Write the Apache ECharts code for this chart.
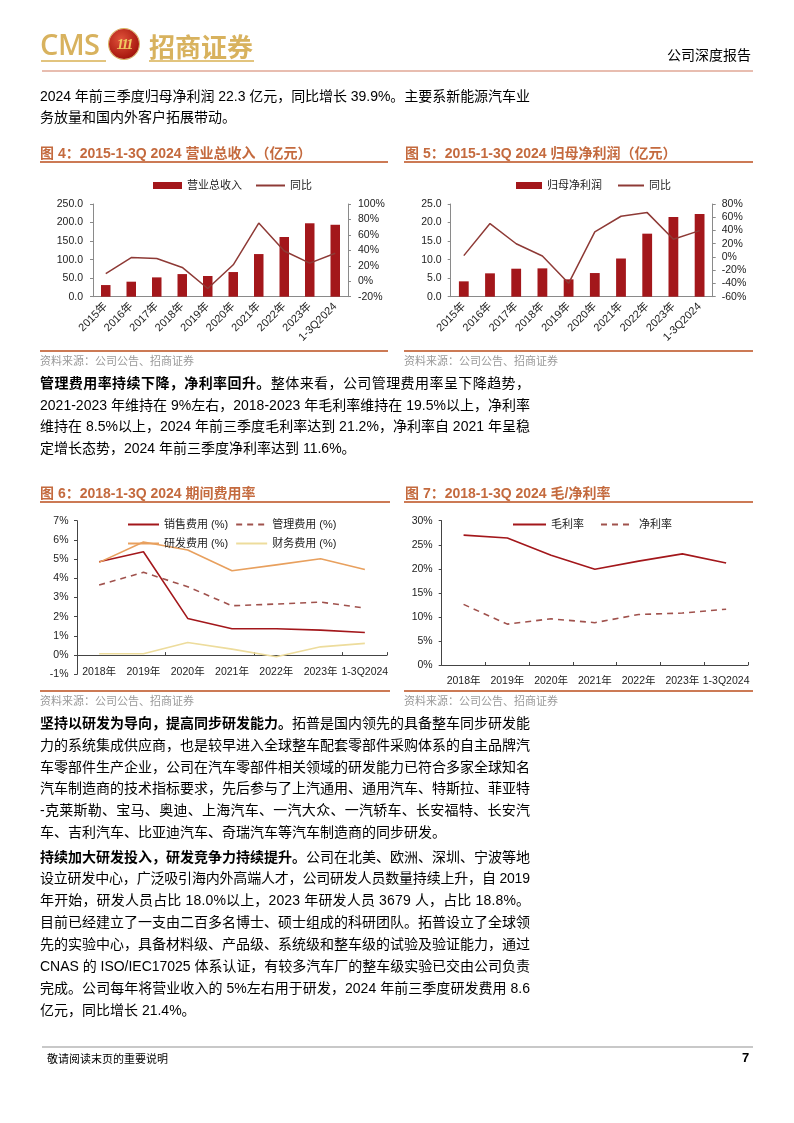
<!DOCTYPE html>
<html><head><meta charset="utf-8">
<script src="https://cdn.jsdelivr.net/npm/echarts@6/dist/echarts.min.js"></script>
<style>
html,body{margin:0;padding:0;background:#fff;}
#page{position:relative;width:794px;height:1123px;overflow:hidden;font-family:"Liberation Sans","Noto Sans CJK SC",sans-serif;color:#000;}
#chart{position:absolute;left:0;top:0;width:794px;height:1123px;}
.abs{position:absolute;white-space:nowrap;}
.para{position:absolute;left:40px;width:490px;font-size:14px;}
.ln{white-space:nowrap;}
b{font-weight:bold;}
.ttl{position:absolute;font-size:14px;font-weight:bold;color:#C46A3E;line-height:18px;white-space:nowrap;}
.rule{position:absolute;height:2px;background:#CC7A55;}
.src{position:absolute;font-size:11px;color:#9a9a9a;line-height:14px;white-space:nowrap;}
</style></head>
<body><div id="page">
<div id="chart"></div>

<!-- header -->
<div class="abs" style="left:40px;top:27px;font-family:'Open Sans';font-weight:600;font-size:29px;color:#D8B25E;line-height:34px;letter-spacing:-0.5px;">CMS</div>
<div class="abs" style="left:41px;top:60px;width:65px;height:2px;background:#E2C47E;"></div>
<div class="abs" style="left:109px;top:29px;width:30px;height:30px;border-radius:50%;background:radial-gradient(circle at 40% 35%,#E0523A,#A8180F 70%,#7A1008);box-shadow:0 0 0 1px #D8B25E;color:#F0C860;font-family:'Liberation Serif';font-style:italic;font-weight:bold;font-size:15px;line-height:30px;text-align:center;letter-spacing:-2px;">111</div>
<div class="abs" style="left:149px;top:30px;font-family:'Noto Sans CJK SC';font-weight:bold;font-size:26px;color:#D8B25E;line-height:32px;">招商证券</div>
<div class="abs" style="left:149px;top:60px;width:105px;height:2px;background:#E2C47E;"></div>
<div class="abs" style="left:42px;top:70px;width:711px;height:2px;background:#E8BDB0;"></div>
<div class="abs" style="left:667px;top:45px;font-size:14px;line-height:18px;font-family:'Noto Sans CJK SC';">公司深度报告</div>

<!-- paragraph 1 -->
<div class="para" style="top:86px;line-height:21px;">
<div class="ln">2024 年前三季度归母净利润 22.3 亿元，同比增长 39.9%。主要系新能源汽车业</div>
<div class="ln last">务放量和国内外客户拓展带动。</div>
</div>

<!-- chart titles -->
<div class="ttl" style="left:40px;top:144px;">图 4：2015-1-3Q 2024 营业总收入（亿元）</div>
<div class="rule" style="left:40px;top:161px;width:348px;"></div>
<div class="rule" style="left:40px;top:350px;width:348px;"></div>
<div class="src" style="left:40px;top:354px;">资料来源：公司公告、招商证券</div>

<div class="ttl" style="left:405px;top:144px;">图 5：2015-1-3Q 2024 归母净利润（亿元）</div>
<div class="rule" style="left:404px;top:161px;width:349px;"></div>
<div class="rule" style="left:404px;top:350px;width:349px;"></div>
<div class="src" style="left:404px;top:354px;">资料来源：公司公告、招商证券</div>

<!-- paragraph 2 -->
<div class="para" style="top:373px;line-height:21.5px;">
<div class="ln"><b>管理费用率持续下降，净利率回升。</b>整体来看，公司管理费用率呈下降趋势，</div>
<div class="ln">2021-2023 年维持在 9%左右，2018-2023 年毛利率维持在 19.5%以上，净利率</div>
<div class="ln">维持在 8.5%以上，2024 年前三季度毛利率达到 21.2%，净利率自 2021 年呈稳</div>
<div class="ln last">定增长态势，2024 年前三季度净利率达到 11.6%。</div>
</div>

<div class="ttl" style="left:40px;top:484px;">图 6：2018-1-3Q 2024 期间费用率</div>
<div class="rule" style="left:40px;top:501px;width:350px;"></div>
<div class="rule" style="left:40px;top:690px;width:350px;"></div>
<div class="src" style="left:40px;top:694px;">资料来源：公司公告、招商证券</div>

<div class="ttl" style="left:405px;top:484px;">图 7：2018-1-3Q 2024 毛/净利率</div>
<div class="rule" style="left:404px;top:501px;width:349px;"></div>
<div class="rule" style="left:404px;top:690px;width:349px;"></div>
<div class="src" style="left:404px;top:694px;">资料来源：公司公告、招商证券</div>

<!-- paragraph 3 -->
<div class="para" style="top:713px;line-height:21.8px;">
<div class="ln"><b>坚持以研发为导向，提高同步研发能力。</b>拓普是国内领先的具备整车同步研发能</div>
<div class="ln">力的系统集成供应商，也是较早进入全球整车配套零部件采购体系的自主品牌汽</div>
<div class="ln">车零部件生产企业，公司在汽车零部件相关领域的研发能力已符合多家全球知名</div>
<div class="ln">汽车制造商的技术指标要求，先后参与了上汽通用、通用汽车、特斯拉、菲亚特</div>
<div class="ln">-克莱斯勒、宝马、奥迪、上海汽车、一汽大众、一汽轿车、长安福特、长安汽</div>
<div class="ln last">车、吉利汽车、比亚迪汽车、奇瑞汽车等汽车制造商的同步研发。</div>
</div>

<!-- paragraph 4 -->
<div class="para" style="top:846.5px;line-height:21.9px;">
<div class="ln"><b>持续加大研发投入，研发竞争力持续提升。</b>公司在北美、欧洲、深圳、宁波等地</div>
<div class="ln">设立研发中心，广泛吸引海内外高端人才，公司研发人员数量持续上升，自 2019</div>
<div class="ln">年开始，研发人员占比 18.0%以上，2023 年研发人员 3679 人，占比 18.8%。</div>
<div class="ln">目前已经建立了一支由二百多名博士、硕士组成的科研团队。拓普设立了全球领</div>
<div class="ln">先的实验中心，具备材料级、产品级、系统级和整车级的试验及验证能力，通过</div>
<div class="ln">CNAS 的 ISO/IEC17025 体系认证，有较多汽车厂的整车级实验已交由公司负责</div>
<div class="ln">完成。公司每年将营业收入的 5%左右用于研发，2024 年前三季度研发费用 8.6</div>
<div class="ln last">亿元，同比增长 21.4%。</div>
</div>

<!-- footer -->
<div class="abs" style="left:42px;top:1046px;width:711px;height:2px;background:#C8C8C8;"></div>
<div class="abs" style="left:47px;top:1051px;font-size:11px;line-height:14px;font-family:'Noto Sans CJK SC';">敬请阅读末页的重要说明</div>
<div class="abs" style="left:742px;top:1050px;font-size:13px;font-weight:bold;line-height:16px;">7</div>
</div>

<script>
// ---- data ----
const years10 = ['2015年','2016年','2017年','2018年','2019年','2020年','2021年','2022年','2023年','1-3Q2024'];
const revenue = [31.4, 40.5, 52.1, 61.0, 55.8, 66.5, 115.0, 161.0, 198.0, 194.0];
const revenueYoY = [9.8, 30.6, 29.4, 17.9, -9.4, 21.3, 75.3, 39.1, 23.4, 36.2];
const profit = [4.14, 6.3, 7.55, 7.64, 4.68, 6.38, 10.3, 17.0, 21.5, 22.3];
const profitYoY = [2.0, 50.4, 20.0, 1.5, -39.8, 37.8, 61.5, 67.0, 26.7, 39.8];

const years7 = ['2018年','2019年','2020年','2021年','2022年','2023年','1-3Q2024'];
const salesRate = [4.86, 5.38, 1.91, 1.37, 1.37, 1.30, 1.18];
const mgmtRate = [3.65, 4.31, 3.56, 2.57, 2.66, 2.76, 2.45];
const rdRate = [4.83, 5.89, 5.47, 4.39, 4.70, 5.02, 4.46];
const finRate = [0.07, 0.07, 0.66, 0.31, -0.09, 0.43, 0.61];
const grossMargin = [27.0, 26.4, 22.8, 19.9, 21.6, 23.1, 21.2];
const netMargin = [12.6, 8.5, 9.6, 8.8, 10.5, 10.8, 11.6];

// ---- text justification (each full line fills the column) ----
function justifyLines() {
  document.querySelectorAll('.para').forEach(p => {
    const W = p.clientWidth;
    p.querySelectorAll('.ln').forEach(ln => {
      ln.style.letterSpacing = '0px';
      if (ln.classList.contains('last')) return;
      const r = document.createRange();
      r.selectNodeContents(ln);
      const w = r.getBoundingClientRect().width;
      const n = ln.textContent.length;
      if (n > 1) ln.style.letterSpacing = ((W - w) / (n - 1)) + 'px';
    });
  });
}
justifyLines();
if (document.fonts && document.fonts.ready) document.fonts.ready.then(justifyLines);

// ---- chart styling helpers ----
const FONT = '"Liberation Sans","Noto Sans CJK SC",sans-serif';
const BAR = '#A3171B', LINE_DARK = '#8E3A36';
const lbl = (extra) => Object.assign({color:'#222', fontSize:10.5, fontFamily:FONT}, extra||{});
const noSym = {opacity:0};

function valAxis(grid, min, max, interval, pos, fmt, margin, axisColor) {
  return {
    type:'value', gridIndex:grid, min:min, max:max, interval:interval, position:pos,
    axisLine:{show:true, onZero:false, lineStyle:{color:axisColor, width:1}},
    axisTick:{show:true, length:3, lineStyle:{color:axisColor}},
    splitLine:{show:false},
    axisLabel:lbl({margin:margin, formatter:fmt})
  };
}
const legendText = {fontSize:11, color:'#222', fontFamily:FONT};

const chart = echarts.init(document.getElementById('chart'), null, {renderer:'canvas'});
const option = {
  animation:false,
  textStyle:{fontFamily:FONT},
  grid:[
    {left:93, top:204, width:255, height:92.7},
    {left:450.7, top:204, width:262, height:92.7},
    {left:77, top:520.7, width:310, height:153.6},
    {left:441.7, top:520.7, width:306.3, height:144.3}
  ],
  legend:[
    {left:148, top:175, itemWidth:29, itemHeight:7, itemGap:13, textStyle:legendText,
     data:[{name:'营业总收入', icon:'rect'}, {name:'同比 ', itemStyle:noSym}]},
    {left:511, top:175, itemWidth:26, itemHeight:7, itemGap:15, textStyle:legendText,
     data:[{name:'归母净利润', icon:'rect'}, {name:'同比', itemStyle:noSym}]},
    {left:122, top:514, itemWidth:31, itemHeight:8, itemGap:7, textStyle:legendText,
     data:[{name:'销售费用 (%)', itemStyle:noSym},{name:'管理费用 (%)', itemStyle:noSym}]},
    {left:122, top:533, itemWidth:31, itemHeight:8, itemGap:7, textStyle:legendText,
     data:[{name:'研发费用 (%)', itemStyle:noSym},{name:'财务费用 (%)', itemStyle:noSym}]},
    {left:507, top:514, itemWidth:33, itemHeight:8, itemGap:16, textStyle:legendText,
     data:[{name:'毛利率', itemStyle:noSym},{name:'净利率', itemStyle:noSym}]}
  ],
  xAxis:[
    {type:'category', gridIndex:0, data:years10,
     axisLine:{show:true, onZero:false, lineStyle:{color:'#8a8a8a'}}, axisTick:{show:false},
     axisLabel:lbl({rotate:45, margin:8, interval:0, fontSize:11})},
    {type:'category', gridIndex:1, data:years10,
     axisLine:{show:true, onZero:false, lineStyle:{color:'#8a8a8a'}}, axisTick:{show:false},
     axisLabel:lbl({rotate:45, margin:8, interval:0, fontSize:11})},
    // chart 6: axis line + ticks at 0%
    {type:'category', gridIndex:2, data:years7, position:'bottom',
     axisLine:{show:true, onZero:true, lineStyle:{color:'#444'}},
     axisTick:{show:true, inside:true, length:3, lineStyle:{color:'#444'}},
     axisLabel:{show:false}},
    {type:'category', gridIndex:3, data:years7,
     axisLine:{show:true, onZero:false, lineStyle:{color:'#444'}},
     axisTick:{show:true, inside:true, length:3, lineStyle:{color:'#444'}},
     axisLabel:lbl({margin:11, interval:0})},
    // chart 6: labels only, near the bottom of the plot
    {type:'category', gridIndex:2, data:years7, position:'bottom', offset:-12,
     axisLine:{show:false, onZero:false}, axisTick:{show:false},
     axisLabel:lbl({margin:4.5, interval:0})}
  ],
  yAxis:[
    valAxis(0, 0, 250, 50, 'left', v => v.toFixed(1), 10, '#8a8a8a'),
    valAxis(0, -20, 100, 20, 'right', v => v + '%', 10, '#8a8a8a'),
    valAxis(1, 0, 25, 5, 'left', v => v.toFixed(1), 9, '#8a8a8a'),
    valAxis(1, -60, 80, 20, 'right', v => v + '%', 9, '#8a8a8a'),
    valAxis(2, -1, 7, 1, 'left', v => v + '%', 8.5, '#444'),
    valAxis(3, 0, 30, 5, 'left', v => v + '%', 9, '#444')
  ],
  series:[
    {name:'营业总收入', type:'bar', xAxisIndex:0, yAxisIndex:0, data:revenue, barWidth:9.5, itemStyle:{color:BAR}},
    {name:'同比 ', type:'line', xAxisIndex:0, yAxisIndex:1, data:revenueYoY, symbol:'none', lineStyle:{color:LINE_DARK, width:1.5}, itemStyle:{color:LINE_DARK}},
    {name:'归母净利润', type:'bar', xAxisIndex:1, yAxisIndex:2, data:profit, barWidth:9.8, itemStyle:{color:BAR}},
    {name:'同比', type:'line', xAxisIndex:1, yAxisIndex:3, data:profitYoY, symbol:'none', lineStyle:{color:LINE_DARK, width:1.5}, itemStyle:{color:LINE_DARK}},
    {name:'销售费用 (%)', type:'line', xAxisIndex:2, yAxisIndex:4, data:salesRate, symbol:'none', lineStyle:{color:'#A3171B', width:1.6}, itemStyle:{color:'#A3171B'}},
    {name:'管理费用 (%)', type:'line', xAxisIndex:2, yAxisIndex:4, data:mgmtRate, symbol:'none', lineStyle:{color:'#A0524D', width:1.6, type:[6,5]}, itemStyle:{color:'#A0524D'}},
    {name:'研发费用 (%)', type:'line', xAxisIndex:2, yAxisIndex:4, data:rdRate, symbol:'none', lineStyle:{color:'#E8A05E', width:1.6}, itemStyle:{color:'#E8A05E'}},
    {name:'财务费用 (%)', type:'line', xAxisIndex:2, yAxisIndex:4, data:finRate, symbol:'none', lineStyle:{color:'#EDDC9C', width:1.6}, itemStyle:{color:'#EDDC9C'}},
    {name:'毛利率', type:'line', xAxisIndex:3, yAxisIndex:5, data:grossMargin, symbol:'none', lineStyle:{color:'#A3171B', width:1.6}, itemStyle:{color:'#A3171B'}},
    {name:'净利率', type:'line', xAxisIndex:3, yAxisIndex:5, data:netMargin, symbol:'none', lineStyle:{color:'#A0524D', width:1.6, type:[6,5]}, itemStyle:{color:'#A0524D'}}
  ]
};
chart.setOption(option);
</script>
</body></html>
